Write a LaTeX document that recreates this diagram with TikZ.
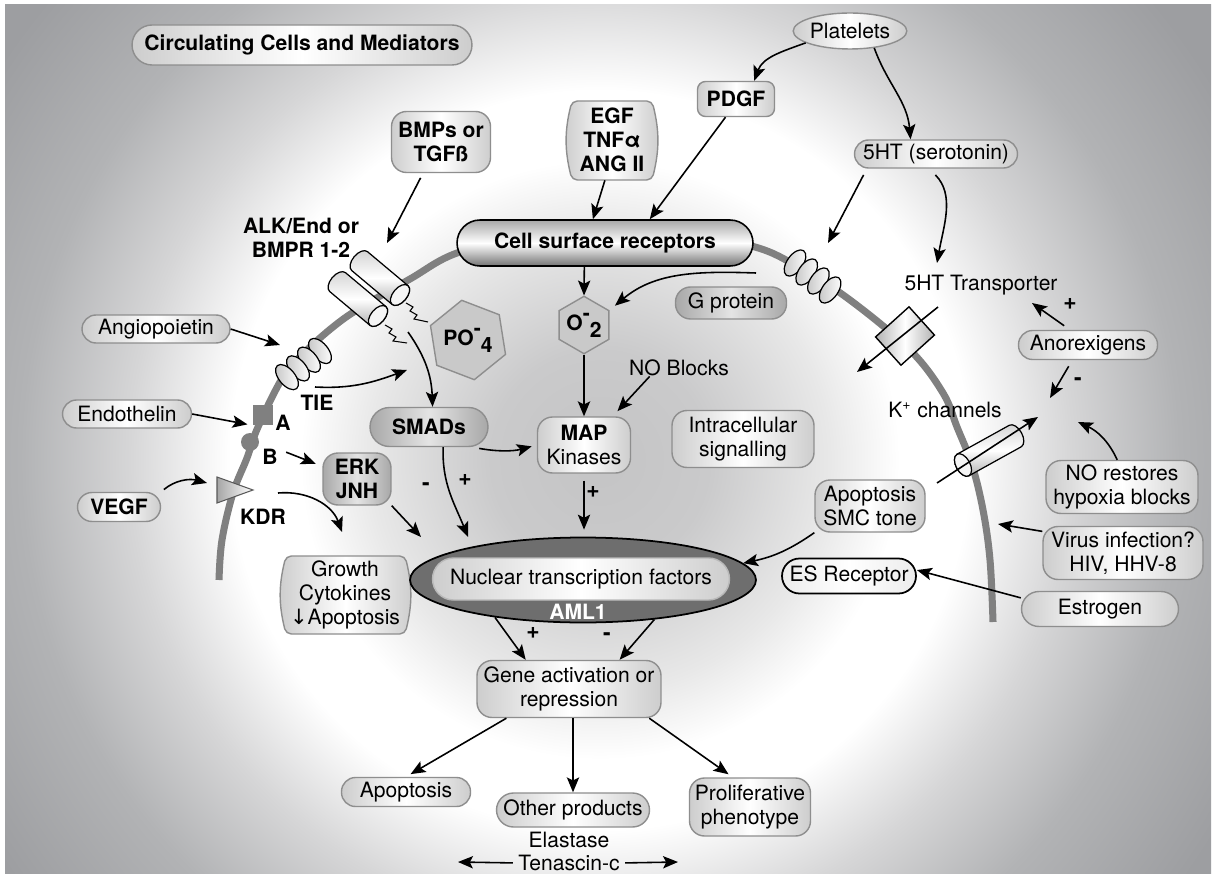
\documentclass[tikz,border=0pt]{standalone}
\usepackage{fontspec}
\setmainfont{TeX Gyre Heros}
\newfontfamily\symfont{DejaVu Sans}
\usetikzlibrary{arrows.meta,shapes.geometric,positioning}

% greys of the backdrop and the boxes
\definecolor{bgcore}{HTML}{C4C4C5}
\definecolor{bgmid}{HTML}{CACACB}
\definecolor{bglite}{HTML}{E8E8E8}
\definecolor{bgfade}{HTML}{D6D6D7}
\definecolor{bgdim}{HTML}{B2B3B5}
\definecolor{bgedge}{HTML}{9D9EA1}
\definecolor{bgfar}{HTML}{98999C}
\definecolor{memgray}{HTML}{808080}
\definecolor{boxline}{HTML}{8E8E8E}
\definecolor{boxside}{HTML}{CDCDCD}
\definecolor{darkside}{HTML}{A8A8A8}
\definecolor{darkmid}{HTML}{E4E4E4}
\definecolor{hexfill}{HTML}{C9C9C9}
\definecolor{nucgray}{HTML}{6E6E6E}
\definecolor{csrtop}{HTML}{A8A8A8}
\definecolor{csrbot}{HTML}{747474}

% light ring around the cell
\pgfdeclareradialshading{cellglow}{\pgfpoint{0bp}{0bp}}{%
  color(0bp)=(bgcore); color(3.9bp)=(bgmid); color(8.2bp)=(bglite);
  color(10.7bp)=(white); color(13.2bp)=(white); color(16.8bp)=(bgfade);
  color(20.7bp)=(bgdim); color(25.7bp)=(bgedge); color(50bp)=(bgfar)}

\begin{document}
\begin{tikzpicture}[x=0.02cm, y=-0.02cm,
    every node/.style={font=\fontsize{12}{13.8}\selectfont, align=center, inner sep=0pt},
    boldtxt/.style={font=\fontsize{12}{13.8}\selectfont\bfseries},
    cellbox/.style={draw=boxline, line width=0.8pt, rounded corners=#1,
      left color=boxside, right color=boxside, middle color=white},
    cellbox/.default=0.28cm,
    darkbox/.style={cellbox=#1, left color=darkside, right color=darkside, middle color=darkmid},
    darkbox/.default=0.3cm,
    barrel/.style={draw=boxline, line width=0.8pt, rounded corners=3pt,
      left color=boxside, right color=boxside, middle color=white},
    hexbox/.style={regular polygon, regular polygon sides=6, draw=boxline, fill=hexfill, line width=0.8pt},
    arr/.style={-{Stealth[length=8.5pt, width=7pt, inset=1.8pt]}, line width=0.9pt},
    membrane/.style={draw=memgray, line width=4pt},
    coil/.style={draw=black, line width=0.7pt, left color=gray!45, right color=white},
    pmsign/.style={font=\fontsize{13}{13}\selectfont\bfseries}]

  \useasboundingbox (0,0) rectangle (1216,878);
  % backdrop
  \fill[white] (0,0) rectangle (1216,878);
  \begin{scope}
    \clip (5,5) rectangle (1211,873);
    \shade[shading=cellglow] (-100,-240) rectangle (1300,1160);
  \end{scope}

  % cell membrane
  \draw[membrane] plot[smooth, tension=0.6] coordinates {(219,580) (222,540) (233,493)
    (247,458) (258,427) (283,377) (305,352) (333,327) (360,308) (410,279) (457,253)
    (530,236) (605,230) (680,234) (755,247) (800,268) (850,300) (910,350) (943,393)
    (957,427) (972,465) (983,510) (990,560) (993,622)};

  % receptors sitting in the membrane
  \foreach \i in {0,...,3}
    \draw[coil, rotate around={40:(320-11*\i,351+8.7*\i)}]
      (320-11*\i,351+8.7*\i) ellipse [x radius=0.16cm, y radius=0.3cm];
  \foreach \i in {0,...,3}
    \draw[coil, rotate around={-35:(795+11.7*\i,263+9*\i)}]
      (795+11.7*\i,263+9*\i) ellipse [x radius=0.16cm, y radius=0.3cm];
  % ALK/BMPR and K+ cylinders (front face at the given point)
  \foreach \cx/\cy/\ang/\len in {400/295/-40/30, 378/316/-40/30, 963/465/209/34} {
    \begin{scope}[shift={(\cx,\cy)}, rotate=\ang, x=1pt, y=1pt]
      \draw[line width=0.7pt, top color=gray!35, bottom color=gray!65, middle color=white]
        (-\len,-7) -- (0,-7) arc[start angle=-90, end angle=90, x radius=4, y radius=7]
        -- (-\len,7) arc[start angle=90, end angle=270, x radius=4, y radius=7] -- cycle;
      \draw[line width=0.7pt, fill=gray!8] (0,0) ellipse [x radius=4, y radius=7];
    \end{scope}
  }
  \draw[line width=0.6pt] (406,303) -- (413,307) -- (410,311) -- (417,315) -- (414,319) -- (428,322);
  \draw[line width=0.6pt] (385,325) -- (392,329) -- (389,333) -- (396,337) -- (393,341) -- (407,343);
  \node[draw=black, line width=0.8pt, rotate=42, minimum width=0.9cm, minimum height=0.76cm,
    left color=gray!60, right color=gray!60, middle color=white] (tbox) at (905,336) {};
  \node[fill=memgray, minimum size=0.4cm] (sqa) at (263,415) {};
  \node[circle, fill=memgray, minimum size=0.36cm] (cirb) at (250,442) {};
  \draw[draw=gray!70!black, line width=0.6pt, left color=gray!70, right color=white]
    (217,477) -- (253,490) -- (217,503) -- cycle;

  % mediators outside the cell
  \node[cellbox=0.4cm, boldtxt, minimum width=6.8cm, minimum height=0.8cm] (circ) at (302,45) {Circulating Cells and Mediators};
  \node[ellipse, draw=boxline, line width=0.8pt, left color=boxside, right color=boxside, middle color=white,
    minimum width=2.22cm, minimum height=0.72cm] (plt) at (850,31) {Platelets};
  \node[cellbox=0.16cm, boldtxt, minimum width=1.54cm, minimum height=0.7cm] (pdgf) at (736,99) {PDGF};
  \coordinate (egfnw) at (572,101);
  \coordinate (egfse) at (652,180);
  \path[barrel] (egfnw) to[bend right=14] (egfnw |- egfse) -- (egfse) to[bend right=14] (egfse |- egfnw) -- cycle;
  \node[boldtxt, minimum width=1.78cm, minimum height=1.6cm] (egf) at (612,140) {EGF\\TNFα\\ANG II};
  \node[cellbox=0.3cm, boldtxt, minimum width=1.98cm, minimum height=1.22cm] (bmp) at (441,142) {BMPs or\\TGFß};
  \node[cellbox, minimum width=3.26cm, minimum height=0.56cm] (sht) at (936,154) {5HT (serotonin)};
  \node[draw=black, line width=0.9pt, rounded corners=0.46cm, top color=csrtop, bottom color=csrbot,
    middle color=white, boldtxt, minimum width=5.92cm, minimum height=0.92cm] (csr) at (605,243) {Cell surface receptors};
  \node[boldtxt] (alk) at (301,238) {ALK/End or\\BMPR 1-2};
  \node[cellbox, minimum width=2.96cm, minimum height=0.56cm] (angio) at (156,329) {Angiopoietin};
  \node[cellbox, minimum width=2.58cm, minimum height=0.56cm] (endo) at (127,414) {Endothelin};
  \node[cellbox=0.29cm, boldtxt, minimum width=1.66cm, minimum height=0.58cm] (vegf) at (119,507) {VEGF};
  \node[boldtxt] (tie) at (317,403) {TIE};
  \node[boldtxt] (alab) at (283,423) {A};
  \node[boldtxt] (blab) at (270,457) {B};
  \node[boldtxt] (kdr) at (263,517) {KDR};

  % inside the cell
  \node[darkbox=0.3cm, boldtxt, minimum width=1.36cm, minimum height=1.04cm] (erk) at (357,479) {ERK\\JNH};
  \coordinate (grownw) at (286,556);
  \coordinate (growse) at (405,634);
  \path[barrel] (grownw) to[bend right=14] (grownw |- growse) -- (growse) to[bend right=14] (growse |- grownw) -- cycle;
  \node[minimum width=2.4cm, minimum height=1.56cm] (growth) at (345,595) {Growth\\Cytokines\\{\symfont ↓}Apoptosis};
  \node[darkbox=0.39cm, boldtxt, minimum width=2.36cm, minimum height=0.78cm] (smads) at (429,427) {SMADs};
  \node[hexbox, shape border rotate=39, minimum size=1.36cm, boldtxt] (po4) at (468,340)
    {PO\raisebox{0.9ex}{-}\raisebox{-0.6ex}{4}};
  \node[hexbox, shape border rotate=30, minimum size=1.12cm, boldtxt] (o2) at (584,325)
    {O\raisebox{0.9ex}{-}\raisebox{-0.6ex}{2}};
  \node[darkbox, minimum width=2.22cm, minimum height=0.64cm] (gprot) at (731,303) {G protein};
  \node (noblk) at (679,368) {NO Blocks};
  \node[cellbox=0.3cm, minimum width=1.86cm, minimum height=1.12cm] (map) at (584,445) {\textbf{MAP}\\Kinases};
  \node[cellbox=0.3cm, minimum width=2.84cm, minimum height=1.14cm] (intra) at (743,439) {Intracellular\\signalling};

  % nucleus
  \node[ellipse, draw=black, line width=1pt, fill=nucgray, minimum width=6.92cm, minimum height=1.7cm] (nuc) at (583,580) {};
  \node[cellbox=0.42cm, draw=gray!55, minimum width=5.94cm, minimum height=0.84cm] (ntf) at (581,579) {Nuclear transcription factors};
  \node[boldtxt, text=white] (aml) at (578,612) {AML1};
  \node[cellbox=0.3cm, minimum width=3.68cm, minimum height=1.14cm] (gene) at (569,689) {Gene activation or\\repression};
  \node[cellbox, minimum width=2.58cm, minimum height=0.58cm] (apop) at (406,792) {Apoptosis};
  \node[cellbox=0.34cm, minimum width=3.06cm, minimum height=0.68cm] (other) at (573,810) {Other products};
  \node[cellbox=0.3cm, minimum width=2.42cm, minimum height=1.16cm] (prolif) at (750,807) {Proliferative\\phenotype};
  \node (elast) at (569,840) {Elastase};
  \node (tena) at (569,863) {Tenascin-c};

  % right hand side
  \node (thtr) at (981,285) {5HT Transporter};
  \node[cellbox, minimum width=2.78cm, minimum height=0.58cm] (anorex) at (1088,345) {Anorexigens};
  \node (kch) at (945,410) {K\textsuperscript{+} channels};
  \node[cellbox=0.3cm, minimum width=3.04cm, minimum height=1.06cm] (norest) at (1122,487) {NO restores\\hypoxia blocks};
  \node[cellbox=0.3cm, minimum width=2.2cm, minimum height=1.04cm] (apsmc) at (870,506) {Apoptosis\\SMC tone};
  \node[cellbox=0.3cm, minimum width=3.2cm, minimum height=1.06cm] (virus) at (1123,553) {Virus infection?\\HIV, HHV-8};
  \node[cellbox=0.35cm, draw=black, line width=1pt, left color=gray!15, right color=gray!15, middle color=white,
    minimum width=2.68cm, minimum height=0.7cm] (esr) at (849,576) {ES Receptor};
  \node[cellbox=0.35cm, minimum width=3.14cm, minimum height=0.7cm] (estr) at (1100,609) {Estrogen};

  % free ends of the arrows
  \coordinate (alkin) at (387,243);
  \coordinate (htrin) at (828,243);
  \coordinate (thtin) at (937,263);
  \coordinate (trout) at (938,307);
  \coordinate (trin) at (857,372);
  \coordinate (anplus) at (1032,303);
  \coordinate (anminus) at (1050,398);
  \coordinate (kout) at (937,483);
  \coordinate (kin) at (1038,417);
  \coordinate (noin) at (1078,422);
  \coordinate (virin) at (998,524);
  \coordinate (gpin) at (756,273);
  \coordinate (smtip) at (468,537);
  \coordinate (erktip) at (421,537);
  \coordinate (tiein) at (280,345);
  \coordinate (vegfin) at (207,483);
  \coordinate (kdrout) at (278,493);
  \coordinate (kdrtip) at (342,532);
  \coordinate (tieout) at (315,387);
  \coordinate (tietip) at (407,370);
  \coordinate (alkout) at (408,332);
  \coordinate (tenl) at (458,862);
  \coordinate (tenr) at (678,862);

  % arrows
  \draw[arr] (plt.195) to[out=200, in=70] (pdgf.45);
  \draw[arr] (plt.-35) to[out=-70, in=95] (sht.150);
  \draw[arr, shorten <=3pt] (bmp.-120) -- (alkin);
  \draw[arr] (egf.-100) -- (csr.117);
  \draw[arr] (pdgf.-120) -- (csr.28);
  \draw[arr, shorten <=4pt] (sht.192) -- (htrin);
  \draw[arr, shorten <=5pt] (sht.-115) to[out=-45, in=80] (thtin);
  \draw[arr] (trout) -- (trin);
  \draw[arr, shorten <=4pt] (anorex.140) -- (anplus);
  \draw[arr, shorten <=4pt] (anorex.-136) -- (anminus);
  \draw[arr] (kout) -- (kin);
  \draw[arr] (norest.100) to[out=115, in=-25] (noin);
  \draw[arr] (virus.165) -- (virin);
  \draw[arr] (estr.172) -- (esr.5);
  \draw[arr] (apsmc.south west) to[out=-145, in=12] (nuc.6);
  \draw[arr] (csr.-131) -- (o2.north);
  \draw[arr, shorten >=4pt] (gpin) to[out=178, in=40] (o2.30);
  \draw[arr] (o2.south) -- (o2.south |- map.north);
  \draw[arr, shorten >=4pt] (noblk.-164) -- (map.45);
  \draw[arr, shorten <=4pt, shorten >=3pt] (smads.-25) to[out=-10, in=195] (map.west);
  \draw[arr] (smads.-55) to[out=-92, in=112] (smtip);
  \draw[arr] (erk.south east) -- (erktip);
  \draw[arr, shorten <=4pt, shorten >=4pt] (map.south) -- (map.south |- nuc.north);
  \draw[arr, shorten <=5pt, shorten >=4pt] (blab.north east) -- (erk.160);
  \draw[arr] (angio.east) -- (tiein);
  \draw[arr, shorten >=3pt] (endo.east) -- (sqa.south west);
  \draw[arr, shorten <=2pt] (vegf.north east) to[out=40, in=165] (vegfin);
  \draw[arr] (kdrout) to[out=5, in=110] (kdrtip);
  \draw[arr] (tieout) to[out=-3, in=200] (tietip);
  \draw[arr] (alkout) to[out=-55, in=92] (smads.80);
  \draw[arr] (nuc.-157) -- (gene.146);
  \draw[arr] (nuc.-29.5) -- (gene.30);
  \draw[arr, shorten >=3pt] (gene.-155) -- (apop.north);
  \draw[arr] (other.north |- gene.south) -- (other.north);
  \draw[arr, shorten >=3pt] (gene.-20) -- (prolif.120);
  \draw[arr, shorten <=3pt] (tena.west) -- (tenl);
  \draw[arr, shorten <=3pt] (tena.east) -- (tenr);

  % signs on the arrows
  \node[pmsign] at (426,487) {-};
  \node[pmsign] at (465,480) {+};
  \node[pmsign] at (593,492) {+};
  \node[pmsign] at (533,633) {+};
  \node[pmsign] at (607,637) {-};
  \node[pmsign] at (1070,304) {+};
  \node[pmsign] at (1078,382) {-};
\end{tikzpicture}
\end{document}
